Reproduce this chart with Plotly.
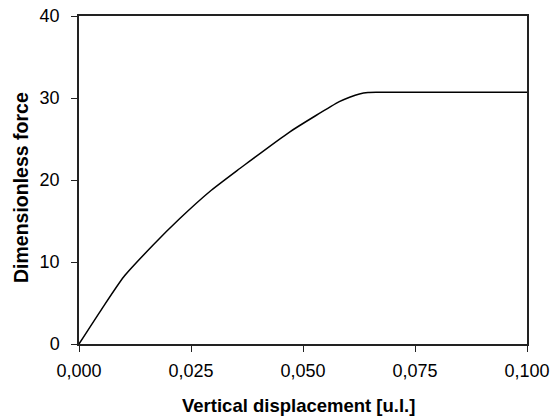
import plotly.graph_objects as go

# Data
displacement = [0.0, 0.005, 0.0100, 0.0166, 0.0225, 0.0292, 0.0359, 0.0381,
                0.0470, 0.0581, 0.0604, 0.0626, 0.0645, 0.0665, 0.070, 0.080, 0.090, 0.100]
force = [0.0, 4.2, 8.2, 12.1, 15.3, 18.6, 21.4, 22.3,
         25.85, 29.55, 30.1, 30.5, 30.67, 30.7, 30.7, 30.7, 30.7, 30.7]

x_ticks = [0.0, 0.025, 0.05, 0.075, 0.1]
y_ticks = [0, 10, 20, 30, 40]
x_title = "Vertical displacement [u.l.]"
y_title = "Dimensionless force"

FONT = "Liberation Sans, Arial, sans-serif"

fig = go.Figure()
fig.add_trace(go.Scatter(x=displacement, y=force, mode="lines",
                         line=dict(color="black", width=1.5, shape="spline", smoothing=0.6),
                         showlegend=False, hoverinfo="skip"))

axis_common = dict(showline=True, linecolor="#222222", linewidth=1.5, mirror=True,
                   showgrid=False, zeroline=False, ticks="outside", ticklen=6,
                   tickwidth=1, tickcolor="#222222", automargin=False,
                   tickfont=dict(family=FONT, size=18, color="black"))

fig.update_layout(
    width=551, height=417,
    margin=dict(l=79, r=24, t=16, b=73, autoexpand=False),
    paper_bgcolor="white", plot_bgcolor="white",
    separators=",.",
    xaxis=dict(range=[0, 0.1], tickvals=x_ticks, tickformat=".3f",
               ticklabelstandoff=4, **axis_common),
    yaxis=dict(range=[0, 40], tickvals=y_ticks, ticklabelstandoff=8, **axis_common),
    annotations=[
        dict(text="<b>" + x_title + "</b>", x=0.5, y=0, xref="paper", yref="paper",
             xshift=-5, yshift=-61, showarrow=False,
             font=dict(family=FONT, size=18.5, color="black"), yanchor="middle"),
        dict(text="<b>" + y_title + "</b>", x=0, y=0.5, xref="paper", yref="paper",
             xshift=-58, yshift=-8, showarrow=False, textangle=-90,
             font=dict(family=FONT, size=19.5, color="black"), xanchor="center"),
    ],
)

# remove the default 8px page margin so the 551x417 figure fills the window
fig.write_html("out.html", config={"displayModeBar": False},
               post_script="document.body.style.margin='0';document.body.style.overflow='hidden';")
